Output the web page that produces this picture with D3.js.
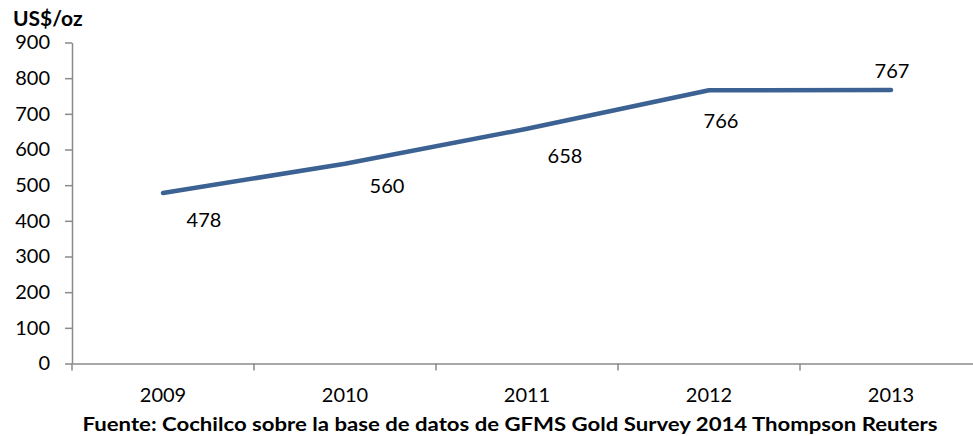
<!DOCTYPE html>
<html>
<head>
<meta charset="utf-8">
<script src="https://cdn.jsdelivr.net/npm/d3@7"></script>
<style>
  body { margin: 0; background: #fff; }
  svg { display: block; font-family: Lato, "Noto Sans", sans-serif; }
</style>
</head>
<body>
<svg id="chart" width="973" height="436"></svg>
<script>
// Data
const years = ['2009', '2010', '2011', '2012', '2013'];
const prices = [478, 560, 658, 766, 767];
const yTicks = [0, 100, 200, 300, 400, 500, 600, 700, 800, 900];

// label offsets from each point (dx to centre, dy to baseline)
const labelOffsets = [[41, 34], [42, 29], [38, 34], [12, 38], [1, -12]];

const svg = d3.select('#chart');
const axisColor = '#8a8a8a';

const xScale = d3.scaleBand()
    .domain(years)
    .range([72, 982])
    .padding(0);

const yScale = d3.scaleLinear()
    .domain([0, 900])
    .range([363.5, 42.5]);

const px = d => xScale(d) + xScale.bandwidth() / 2;

// y axis
const yAxis = svg.append('g')
    .attr('transform', 'translate(72,0)')
    .call(d3.axisLeft(yScale).tickValues(yTicks).tickSize(7).tickSizeOuter(0).tickPadding(15));
yAxis.selectAll('path, line').attr('stroke', axisColor).attr('stroke-width', 1.5);
yAxis.selectAll('text').attr('font-size', 20).attr('fill', '#000').attr('font-family', 'Lato, sans-serif');

// x axis: labels at centres, ticks at band boundaries
const xAxis = svg.append('g')
    .attr('transform', `translate(0,${yScale(0)})`)
    .call(d3.axisBottom(xScale).tickSize(0).tickPadding(24));
xAxis.select('.domain').attr('stroke', axisColor).attr('stroke-width', 1.5);
xAxis.selectAll('text').attr('font-size', 20).attr('fill', '#000').attr('font-family', 'Lato, sans-serif');

xAxis.selectAll('.bound')
    .data(years)
    .enter().append('line')
    .attr('class', 'bound')
    .attr('x1', d => xScale(d))
    .attr('x2', d => xScale(d))
    .attr('y1', 0)
    .attr('y2', 7)
    .attr('stroke', axisColor)
    .attr('stroke-width', 1.5);

// line
const line = d3.line()
    .x((d, i) => px(years[i]))
    .y(d => yScale(d));

svg.append('path')
    .datum(prices)
    .attr('fill', 'none')
    .attr('stroke', '#3b6292')
    .attr('stroke-width', 4.5)
    .attr('stroke-linecap', 'round')
    .attr('stroke-linejoin', 'round')
    .attr('d', line);

// data labels
svg.selectAll('.lbl')
    .data(prices)
    .enter().append('text')
    .attr('class', 'lbl')
    .attr('x', (d, i) => px(years[i]) + labelOffsets[i][0])
    .attr('y', (d, i) => yScale(d) + labelOffsets[i][1])
    .attr('text-anchor', 'middle')
    .attr('font-size', 20)
    .text(d => d);

// unit title
svg.append('text')
    .attr('x', 13)
    .attr('y', 25.5)
    .attr('font-size', 21)
    .attr('font-weight', 'bold')
    .text('US$/oz');

// source
svg.append('text')
    .attr('x', 510)
    .attr('y', 431)
    .attr('text-anchor', 'middle')
    .attr('font-size', 18)
    .attr('font-weight', 'bold')
    .attr('textLength', 855)
    .attr('lengthAdjust', 'spacingAndGlyphs')
    .text('Fuente: Cochilco sobre la base de datos de GFMS Gold Survey 2014 Thompson Reuters');
</script>
</body>
</html>
